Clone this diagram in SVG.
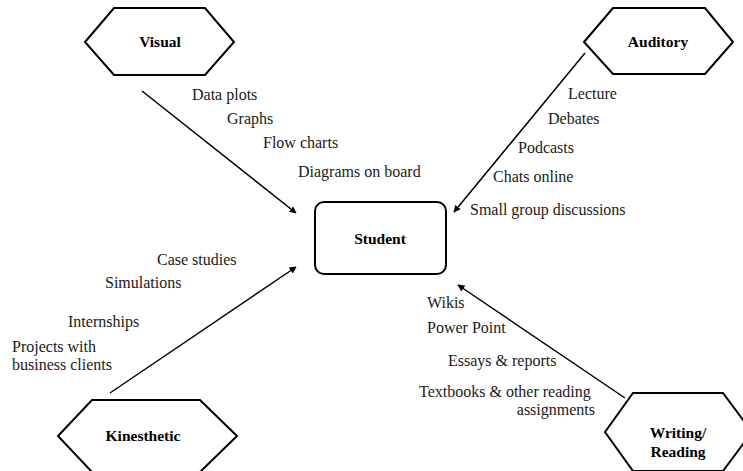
<svg xmlns="http://www.w3.org/2000/svg" width="743" height="471" viewBox="0 0 743 471" font-family="Liberation Serif, DejaVu Serif, serif">
<style>
.hex{fill:#fff;stroke:#000;stroke-width:2;stroke-linejoin:miter}
.box{fill:#fff;stroke:#000;stroke-width:2}
.lbl{font-size:16px;fill:#1a1a1a}
.nt{font-size:15.5px;font-weight:bold;fill:#000;text-anchor:middle}
.arr{stroke:#000;stroke-width:1.5;fill:none;marker-end:url(#ah)}
</style>
<defs>
<marker id="ah" viewBox="0 0 10 10" refX="9" refY="5" markerWidth="7" markerHeight="7" markerUnits="userSpaceOnUse" orient="auto">
<path d="M0,0 L10,5 L0,10 z" fill="#000"/>
</marker>
</defs>
<rect width="743" height="471" fill="#fff"/>
<g id="connectors">
<line class="arr" x1="142" y1="91" x2="296" y2="213"/>
<line class="arr" x1="585" y1="53" x2="454" y2="212"/>
<line class="arr" x1="110" y1="393" x2="296" y2="267"/>
<line class="arr" x1="625" y1="398" x2="458" y2="285"/>
</g>
<g id="visual">
<polygon class="hex" points="85,42 114,8 205,8 234,42 205,75 114,75"/>
<text class="nt" x="160" y="47">Visual</text>
</g>
<g id="auditory">
<polygon class="hex" points="584,42 613,8 705,8 733,42 705,74 613,74"/>
<text class="nt" x="658" y="47">Auditory</text>
</g>
<g id="kinesthetic">
<polygon class="hex" points="58,436 92,400 200,400 237,436 200,472 92,472"/>
<text class="nt" x="143" y="441">Kinesthetic</text>
</g>
<g id="writing">
<polygon class="hex" points="605,432 633,393 723,393 752,432 723,471 633,471"/>
<text class="nt" x="678" y="438">Writing/</text>
<text class="nt" x="678" y="457">Reading</text>
</g>
<g id="student">
<rect class="box" x="315" y="202" width="131" height="72" rx="9"/>
<text class="nt" x="380" y="244">Student</text>
</g>
<g id="labels">
<text class="lbl" x="192" y="100">Data plots</text>
<text class="lbl" x="227" y="124">Graphs</text>
<text class="lbl" x="263" y="148">Flow charts</text>
<text class="lbl" x="298" y="177">Diagrams on board</text>
<text class="lbl" x="568" y="99">Lecture</text>
<text class="lbl" x="548" y="124">Debates</text>
<text class="lbl" x="518" y="153">Podcasts</text>
<text class="lbl" x="493" y="182">Chats online</text>
<text class="lbl" x="470" y="215">Small group discussions</text>
<text class="lbl" x="157" y="265">Case studies</text>
<text class="lbl" x="105" y="288">Simulations</text>
<text class="lbl" x="68" y="327">Internships</text>
<text class="lbl" x="12" y="352">Projects with</text>
<text class="lbl" x="12" y="370">business clients</text>
<text class="lbl" x="427" y="308">Wikis</text>
<text class="lbl" x="427" y="333">Power Point</text>
<text class="lbl" x="448" y="366">Essays &amp; reports</text>
<text class="lbl" x="419" y="397">Textbooks &amp; other reading</text>
<text class="lbl" x="595" y="415" text-anchor="end">assignments</text>
</g>
</svg>
